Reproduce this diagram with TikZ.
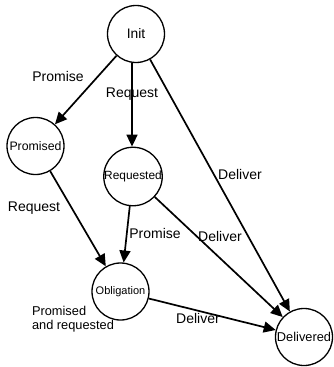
\documentclass[tikz,border=0pt]{standalone}
\usepackage{fontspec}
\setmainfont{Liberation Sans}
\usetikzlibrary{arrows.meta}
\begin{document}
\begin{tikzpicture}[x=1pt,y=-1pt,
  state/.style={circle,draw,line width=1.3pt,minimum size=57pt,inner sep=0pt,font=\fontsize{12.3}{12.3}\selectfont},
  tr/.style={line width=1.7pt,-{Triangle[length=12pt,width=11pt]}},
  lbl/.style={font=\fontsize{14}{15}\selectfont,inner sep=0pt}]
\useasboundingbox (0,0) rectangle (333,367);
\node[state,font=\fontsize{13.8}{13.8}\selectfont] (init) at (136,34) {Init};
\node[state] (promised) at (35.5,146) {Promised};
\node[state,font=\fontsize{11.9}{11.9}\selectfont] (requested) at (133,176.5) {Requested};
\node[state,font=\fontsize{11}{11}\selectfont] (obl) at (120.5,291.5) {Obligation};
\node[state,font=\fontsize{12.8}{12.8}\selectfont] (deliv) at (304,337) {Delivered};
\draw[tr] (init.south) ++(-4,0) coordinate (ia) -- (ia |- requested.north) coordinate (ib);
\draw[tr] (init) -- (promised);
\draw[tr] (init) -- (deliv);
\draw[tr] (promised) -- (obl);
\draw[tr] (requested) -- (obl);
\draw[tr] (requested) -- (deliv);
\draw[tr] (obl) -- (deliv);
\node[lbl] (l1) at (58,76) {Promise};
\node[lbl] (l2) at (132,94) {Request};
\node[lbl] (l3) at (240,174) {Deliver};
\node[lbl] (l4) at (34,208) {Request};
\node[lbl] (l5) at (155,233) {Promise};
\node[lbl] (l6) at (220,236) {Deliver};
\node[lbl,align=left,font=\fontsize{12.8}{14.5}\selectfont] (l7) at (73,319) {Promised\\and requested};
\node[lbl] (l8) at (198,318) {Deliver};
\end{tikzpicture}
\end{document}
